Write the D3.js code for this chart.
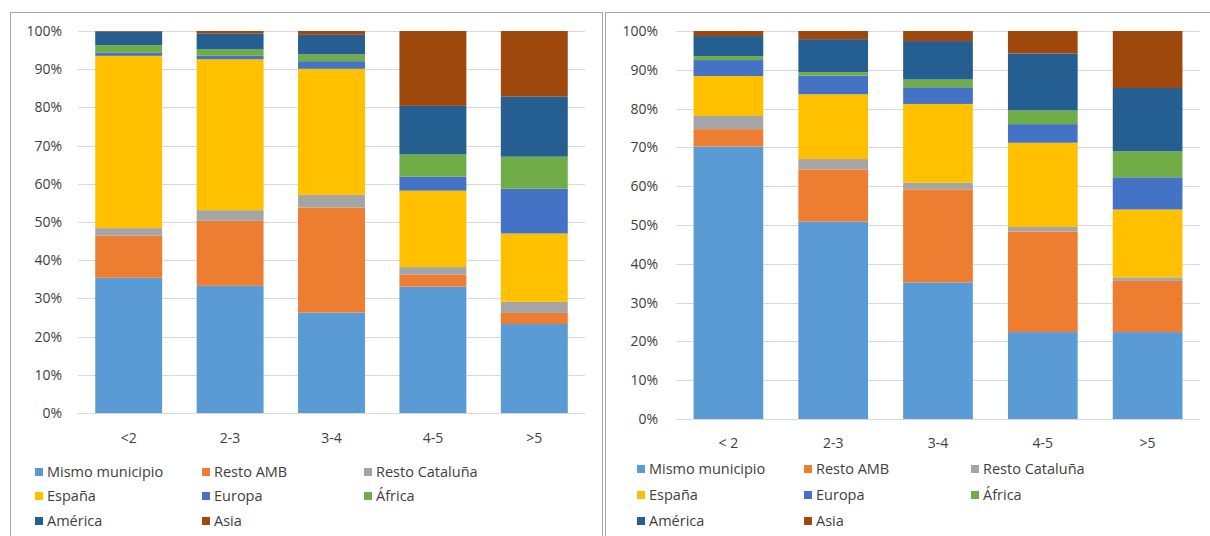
<!DOCTYPE html>
<html>
<head>
<meta charset="utf-8">
<script src="https://cdn.jsdelivr.net/npm/d3@7"></script>
<style>
  body { margin: 0; background: #fff; }
  svg { display: block; font-family: "Open Sans", "Noto Sans", sans-serif; }
</style>
</head>
<body>
<svg id="chart" width="1210" height="536"></svg>
<script>
// series, in stacking order (bottom to top)
const seriesNames = ["Mismo municipio", "Resto AMB", "Resto Cataluña", "España", "Europa", "África", "América", "Asia"];
const seriesColors = ["#5b9bd5", "#ed7d31", "#a5a5a5", "#ffc000", "#4472c4", "#70ad47", "#255e91", "#9e480e"];

const catsLeft = ["<2", "2-3", "3-4", "4-5", ">5"];
const catsRight = ["< 2", "2-3", "3-4", "4-5", ">5"];
const yTicks = [0, 10, 20, 30, 40, 50, 60, 70, 80, 90, 100];

// one row per category, one value (%) per series
const valuesLeft = [
  [35.4, 11.0, 2.0, 45.1, 0.9, 1.9, 3.5, 0.2],
  [33.3, 17.0, 2.8, 39.5, 0.9, 1.7, 4.1, 0.7],
  [26.3, 27.5, 3.3, 33.0, 2.0, 1.8, 5.1, 1.0],
  [33.1, 3.1, 2.0, 20.0, 3.7, 5.8, 12.7, 19.6],
  [23.3, 2.9, 2.9, 17.9, 11.7, 8.4, 15.7, 17.2]
];
const valuesRight = [
  [70.2, 4.5, 3.4, 10.3, 4.1, 1.0, 5.2, 1.3],
  [50.9, 13.4, 2.7, 16.7, 4.8, 0.9, 8.5, 2.1],
  [35.2, 24.0, 1.7, 20.3, 4.3, 2.0, 9.9, 2.6],
  [22.4, 25.9, 1.2, 21.7, 4.8, 3.5, 14.7, 5.8],
  [22.4, 13.2, 0.9, 17.5, 8.3, 6.7, 16.3, 14.7]
];

var svg = d3.select("#chart");

// panel frames
svg.append("rect").attr("x", 10.5).attr("y", 12.5).attr("width", 592).attr("height", 540)
  .attr("fill", "none").attr("stroke", "#a6a6a6");
svg.append("rect").attr("x", 605.5).attr("y", 12.5).attr("width", 620).attr("height", 540)
  .attr("fill", "none").attr("stroke", "#a6a6a6");

function drawPanel(cfg) {
  var g = svg.append("g");

  var rows = cfg.values.map(function(v, i) {
    var r = { cat: cfg.cats[i] };
    seriesNames.forEach(function(s, j) { r[s] = v[j]; });
    return r;
  });

  var x = d3.scaleBand().domain(cfg.cats).range([cfg.x0, cfg.x1]).paddingInner(cfg.pad).paddingOuter(cfg.pad / 2);
  var y = d3.scaleLinear().domain([0, 1]).range([cfg.y0, cfg.y1]);

  // gridlines
  g.append("g").selectAll("line")
    .data(yTicks)
    .enter().append("line")
    .attr("x1", cfg.x0).attr("x2", cfg.x1)
    .attr("y1", function(d) { return Math.round(y(d / 100)) + 0.5; })
    .attr("y2", function(d) { return Math.round(y(d / 100)) + 0.5; })
    .attr("stroke", "#d9d9d9").attr("stroke-width", 1);

  // y labels
  g.append("g").selectAll("text")
    .data(yTicks)
    .enter().append("text")
    .attr("x", cfg.labelX)
    .attr("y", function(d) { return y(d / 100); })
    .attr("dy", "0.35em")
    .attr("text-anchor", "end")
    .attr("font-size", 14)
    .attr("fill", "#404040")
    .text(function(d) { return d + "%"; });

  var stack = d3.stack().keys(seriesNames).offset(d3.stackOffsetExpand);
  var layers = stack(rows);

  g.append("g").selectAll("g")
    .data(layers)
    .enter().append("g")
    .attr("fill", function(d, i) { return seriesColors[i]; })
    .selectAll("rect")
    .data(function(d) { return d; })
    .enter().append("rect")
    .attr("x", function(d) { return x(d.data.cat); })
    .attr("width", x.bandwidth())
    .attr("y", function(d) { return y(d[1]); })
    .attr("height", function(d) { return y(d[0]) - y(d[1]); });

  // x labels
  g.append("g").selectAll("text")
    .data(cfg.cats)
    .enter().append("text")
    .attr("x", function(d) { return x(d) + x.bandwidth() / 2; })
    .attr("y", cfg.xLabelY)
    .attr("text-anchor", "middle")
    .attr("font-size", 14)
    .attr("fill", "#404040")
    .text(function(d) { return d; });

  // legend
  var leg = g.append("g").selectAll("g")
    .data(seriesNames)
    .enter().append("g")
    .attr("transform", function(d, i) {
      return "translate(" + cfg.legCols[i % 3] + "," + cfg.legRows[Math.floor(i / 3)] + ")";
    });
  leg.append("rect")
    .attr("x", 0).attr("y", -4).attr("width", 8).attr("height", 8)
    .attr("fill", function(d, i) { return seriesColors[i]; });
  leg.append("text")
    .attr("x", 12).attr("dy", "0.35em")
    .attr("font-size", 14.5)
    .attr("fill", "#404040")
    .text(function(d) { return d; });
}

drawPanel({
  cats: catsLeft, values: valuesLeft,
  x0: 78, x1: 585, y0: 413, y1: 31, pad: 0.34,
  labelX: 62, xLabelY: 443,
  legCols: [35, 202, 364], legRows: [472, 496, 521]
});

drawPanel({
  cats: catsRight, values: valuesRight,
  x0: 676, x1: 1200, y0: 419, y1: 31, pad: 0.335,
  labelX: 658, xLabelY: 448,
  legCols: [637, 804, 971], legRows: [469, 495, 521]
});
</script>
</body>
</html>
